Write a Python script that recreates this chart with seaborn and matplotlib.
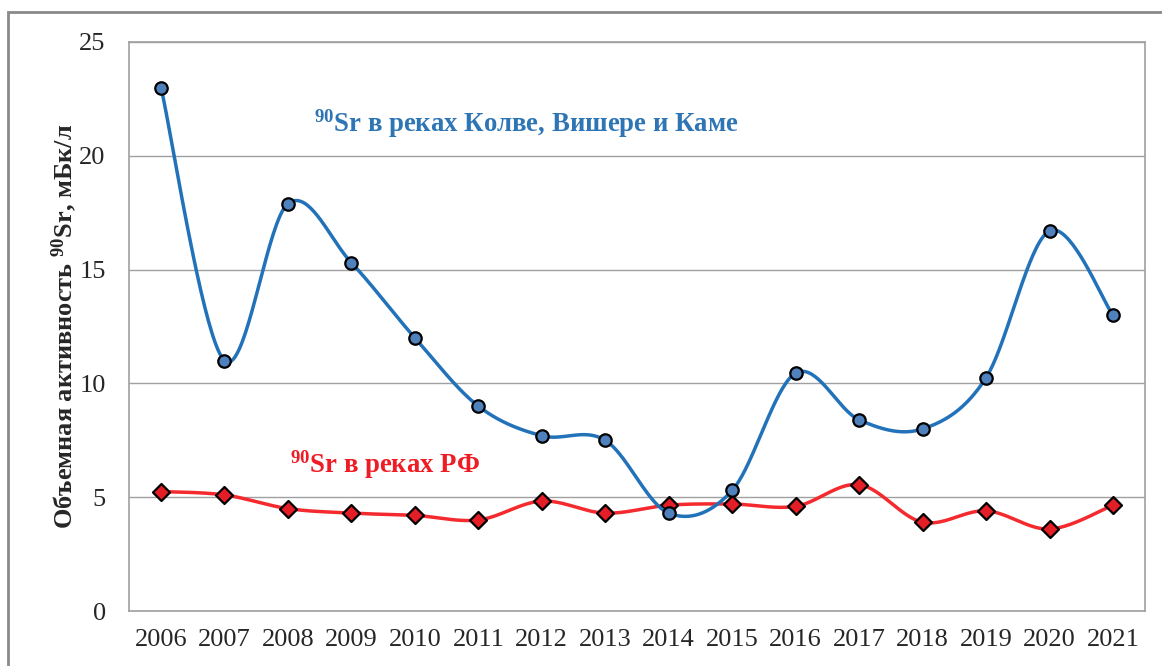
import numpy as np
import pandas as pd
import seaborn as sns
import matplotlib.pyplot as plt
from matplotlib.patches import Rectangle

years = [str(y) for y in range(2006, 2022)]
kama = [23.0, 11.0, 17.9, 15.3, 12.0, 9.0, 7.7, 7.5, 4.3, 5.3, 10.45, 8.4, 8.0, 10.25, 16.7, 13.0]
rf = [5.25, 5.1, 4.5, 4.3, 4.2, 4.0, 4.83, 4.3, 4.65, 4.7, 4.6, 5.55, 3.9, 4.4, 3.6, 4.65]
yticks = [0, 5, 10, 15, 20, 25]

sns.set_style("white")
plt.rcParams['font.family'] = ['Liberation Serif', 'DejaVu Serif']
plt.rcParams['mathtext.fontset'] = 'custom'
plt.rcParams['mathtext.bf'] = 'Liberation Serif:bold'
plt.rcParams['mathtext.rm'] = 'Liberation Serif:bold'
plt.rcParams['mathtext.default'] = 'bf'


def smooth(vals, n=40):
    # excel-like smoothed line (bezier through the points)
    p = np.column_stack([np.arange(len(vals)), vals]).astype(float)
    pts = np.vstack([p[0], p, p[-1]])
    out = []
    for i in range(1, len(pts) - 2):
        p0, p1, p2, p3 = pts[i - 1], pts[i], pts[i + 1], pts[i + 2]
        c1 = p1 + (p2 - p0) / 6
        c2 = p2 - (p3 - p1) / 6
        t = np.linspace(0, 1, n)[:, None]
        seg = ((1 - t) ** 3) * p1 + 3 * ((1 - t) ** 2) * t * c1 + 3 * (1 - t) * t ** 2 * c2 + t ** 3 * p2
        out.append(seg)
    out = np.vstack(out)
    return out[:, 0], out[:, 1]


df = pd.DataFrame({'x': np.arange(len(years)), 'kama': kama, 'rf': rf})

fig = plt.figure(figsize=(11.62, 6.66), dpi=100)
ax = fig.add_axes([129.3 / 1162, 1 - 611 / 666, 1015.4 / 1162, 569 / 666])

blue_line = '#2272BA'
blue_fill = '#4F81BD'
red_line = '#F42A2E'
red_fill = '#E41E26'

sx, sy = smooth(rf)
sns.lineplot(x=sx, y=sy, ax=ax, color=red_line, lw=2.5, sort=False, zorder=3)
sns.scatterplot(data=df, x='x', y='rf', ax=ax, marker='D', s=75, color=red_fill,
                edgecolor='black', linewidth=1.6, zorder=4)

sx, sy = smooth(kama)
sns.lineplot(x=sx, y=sy, ax=ax, color=blue_line, lw=2.5, sort=False, zorder=5)
sns.scatterplot(data=df, x='x', y='kama', ax=ax, marker='o', s=80, color=blue_fill,
                edgecolor='black', linewidth=1.6, zorder=6)

ax.set_xlim(-0.5, len(years) - 0.5)
ax.set_ylim(0, 25)
ax.set_yticks(yticks)
ax.set_yticklabels([str(v) for v in yticks])
ax.set_xticks(np.arange(len(years)))
ax.set_xticklabels(years)
ax.set_xticks(np.arange(len(years) + 1) - 0.5, minor=True)
ax.tick_params(axis='x', which='major', length=0, labelsize=19, pad=13)
ax.tick_params(axis='x', which='minor', length=7, color='#8c8c8c', width=1, direction='out')
ax.tick_params(axis='y', length=7, color='#8c8c8c', width=1, direction='out', labelsize=19, pad=10)
ax.grid(axis='y', color='#a0a0a0', lw=1)
for s in ax.spines.values():
    s.set_color('#a0a0a0')
    s.set_linewidth(1.2)
ax.set_xlabel('')
ax.set_ylabel('Объемная активность $^{90}$Sr, мБк/л', fontsize=19, fontweight='bold')
ax.yaxis.label.set_va('center')
ax.yaxis.set_label_coords(-0.064, 0.5)

ax.text(0.391, 0.842, '$^{90}$Sr в реках Колве, Вишере и Каме', transform=ax.transAxes,
        ha='center', va='baseline', fontsize=19.3, fontweight='bold', color='#2E75B6')
ax.text(0.252, 0.244, '$^{90}$Sr в реках РФ', transform=ax.transAxes,
        ha='center', va='baseline', fontsize=19.3, fontweight='bold', color='#EE1C25')

fig.patches.append(Rectangle((8 / 1162, -0.1), 1.2, 1.1 - 12 / 666, transform=fig.transFigure,
                             fill=False, edgecolor='#8a8a8a', lw=2, zorder=0))

fig.savefig('out.png', dpi=100)
